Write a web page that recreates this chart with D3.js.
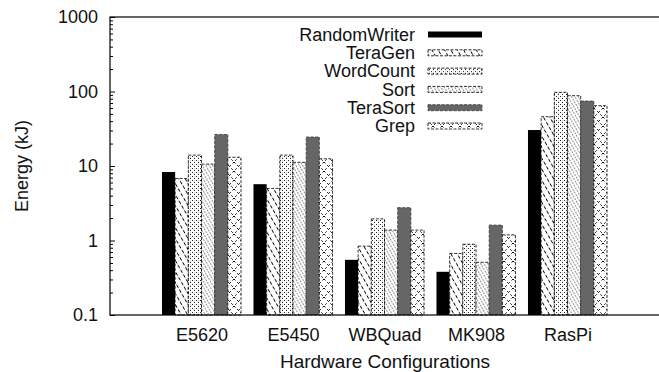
<!DOCTYPE html>
<html>
<head>
<meta charset="utf-8">
<script src="https://cdn.jsdelivr.net/npm/d3@7"></script>
<style>
  body { margin: 0; background: #fff; }
  text { font-family: "Liberation Sans", Arial, Helvetica, sans-serif; fill: #111; }
</style>
</head>
<body>
<svg id="chart" width="659" height="372"></svg>
<script>
// Data (energy in kJ, log scale)
const configs = ["E5620", "E5450", "WBQuad", "MK908", "RasPi"];
const seriesNames = ["RandomWriter", "TeraGen", "WordCount", "Sort", "TeraSort", "Grep"];
const randomWriter = [8.3, 5.7, 0.55, 0.38, 30.4];
const teraGen      = [6.8, 5.0, 0.84, 0.67, 45.9];
const wordCount    = [14, 14, 1.95, 0.89, 97.5];
const sortJob      = [10.6, 11.2, 1.38, 0.51, 87.9];
const teraSort     = [26.5, 24.5, 2.76, 1.61, 74.5];
const grep         = [13.1, 12.5, 1.38, 1.19, 64.5];
const yTickValues  = [0.1, 1, 10, 100, 1000];

const seriesValues = [randomWriter, teraGen, wordCount, sortJob, teraSort, grep];

// Layout
const plotLeft = 110, plotRight = 659, plotTop = 17, plotBottom = 315;
const fontSize = 18;

const svg = d3.select("#chart");

const x = d3.scaleLinear().domain([-1, configs.length]).range([plotLeft, plotRight]);
const sub = d3.scaleBand().domain(seriesNames).range([-0.432, 0.432]);
const y = d3.scaleLog().domain([0.1, 1000]).range([plotBottom, plotTop]);

// Fill patterns, roughly like gnuplot's
const defs = svg.append("defs");

function linePattern(id, size, angle, lines) {
  const p = defs.append("pattern")
    .attr("id", id)
    .attr("patternUnits", "userSpaceOnUse")
    .attr("width", size)
    .attr("height", size)
    .attr("patternTransform", `rotate(${angle})`);
  p.append("rect").attr("width", size).attr("height", size).attr("fill", "#fff");
  lines(p, size);
}

linePattern("pTeraGen", 5.5, 60, (p, s) => {
  p.append("line").attr("x1", 0).attr("x2", s).attr("y1", 0.5).attr("y2", 0.5)
    .attr("stroke", "#000").attr("stroke-width", 1).attr("stroke-dasharray", "3 2");
});

const wc = defs.append("pattern")
  .attr("id", "pWordCount")
  .attr("patternUnits", "userSpaceOnUse")
  .attr("width", 4).attr("height", 4);
wc.append("rect").attr("width", 4).attr("height", 4).attr("fill", "#fff");
[[0, 0], [2, 2], [2, 0.5]].forEach(([px, py], i) => {
  wc.append("rect").attr("x", px).attr("y", py).attr("width", 1).attr("height", 1)
    .attr("fill", i < 2 ? "#222" : "#bbb");
});

linePattern("pSort", 3, 60, (p, s) => {
  p.append("line").attr("x1", 0).attr("x2", s).attr("y1", 0.5).attr("y2", 0.5)
    .attr("stroke", "#888").attr("stroke-width", 0.9).attr("stroke-dasharray", "2 1");
});

const gp = defs.append("pattern")
  .attr("id", "pGrep")
  .attr("patternUnits", "userSpaceOnUse")
  .attr("width", 9).attr("height", 9);
gp.append("rect").attr("width", 9).attr("height", 9).attr("fill", "#fff");
gp.append("path").attr("d", "M0,0L9,9M9,0L0,9")
  .attr("stroke", "#000").attr("stroke-width", 1).attr("stroke-dasharray", "2 2.5");

const fills   = ["#000", "url(#pTeraGen)", "url(#pWordCount)", "url(#pSort)", "#666", "url(#pGrep)"];
const strokes = ["none", "#000", "#000", "#000", "#333", "#000"];

// Bars
const bw = x(sub.bandwidth()) - x(0);
seriesNames.forEach((name, s) => {
  svg.append("g")
    .selectAll("rect")
    .data(seriesValues[s])
    .join("rect")
    .attr("x", (d, i) => x(i + sub(name)))
    .attr("y", d => y(d))
    .attr("width", bw)
    .attr("height", d => plotBottom - y(d))
    .attr("fill", fills[s])
    .attr("stroke", strokes[s])
    .attr("stroke-width", 0.8)
    .attr("stroke-dasharray", s === 0 ? null : "3 1.5");
});

// Frame (right edge falls outside the picture)
svg.append("rect")
  .attr("x", plotLeft).attr("y", plotTop)
  .attr("width", plotRight - plotLeft + 2).attr("height", plotBottom - plotTop)
  .attr("fill", "none").attr("stroke", "#000").attr("stroke-width", 1.2);

// Y axis: major ticks with labels, minor ticks inward
const minorTicks = y.ticks().filter(v => !yTickValues.includes(v));
svg.append("g")
  .attr("transform", `translate(${plotLeft},0)`)
  .call(d3.axisLeft(y).tickValues(minorTicks).tickSize(-3).tickFormat(""))
  .call(g => g.select(".domain").remove());

svg.append("g")
  .attr("transform", `translate(${plotLeft},0)`)
  .call(d3.axisLeft(y).tickValues(yTickValues).tickSizeInner(-5).tickSizeOuter(0)
    .tickPadding(12).tickFormat(d => String(d)))
  .call(g => g.select(".domain").remove())
  .call(g => g.selectAll("text").attr("font-size", fontSize).attr("font-family", null).attr("fill", null));

// X axis labels
svg.append("g")
  .attr("transform", `translate(0,${plotBottom})`)
  .call(d3.axisBottom(x).tickValues(d3.range(configs.length)).tickSize(0)
    .tickPadding(13).tickFormat(i => configs[i]))
  .call(g => g.select(".domain").remove())
  .call(g => g.selectAll("text").attr("font-size", fontSize).attr("font-family", null).attr("fill", null));

// Axis titles
svg.append("text")
  .attr("x", 385)
  .attr("y", 368)
  .attr("text-anchor", "middle")
  .attr("font-size", 19)
  .text("Hardware Configurations");

svg.append("text")
  .attr("transform", "translate(28,166) rotate(-90)")
  .attr("text-anchor", "middle")
  .attr("font-size", fontSize)
  .text("Energy (kJ)");

// Legend
const legend = svg.append("g").attr("transform", "translate(415,34.5)");
const rowH = 18.3;
seriesNames.forEach((name, s) => {
  const row = legend.append("g").attr("transform", `translate(0,${s * rowH})`);
  row.append("text")
    .attr("text-anchor", "end")
    .attr("dy", "0.35em")
    .attr("font-size", fontSize)
    .text(name);
  row.append("rect")
    .attr("x", 13).attr("y", -3)
    .attr("width", 54).attr("height", 6)
    .attr("fill", fills[s])
    .attr("stroke", strokes[s])
    .attr("stroke-width", 0.8)
    .attr("stroke-dasharray", s === 0 ? null : "3 1.5");
});
</script>
</body>
</html>
